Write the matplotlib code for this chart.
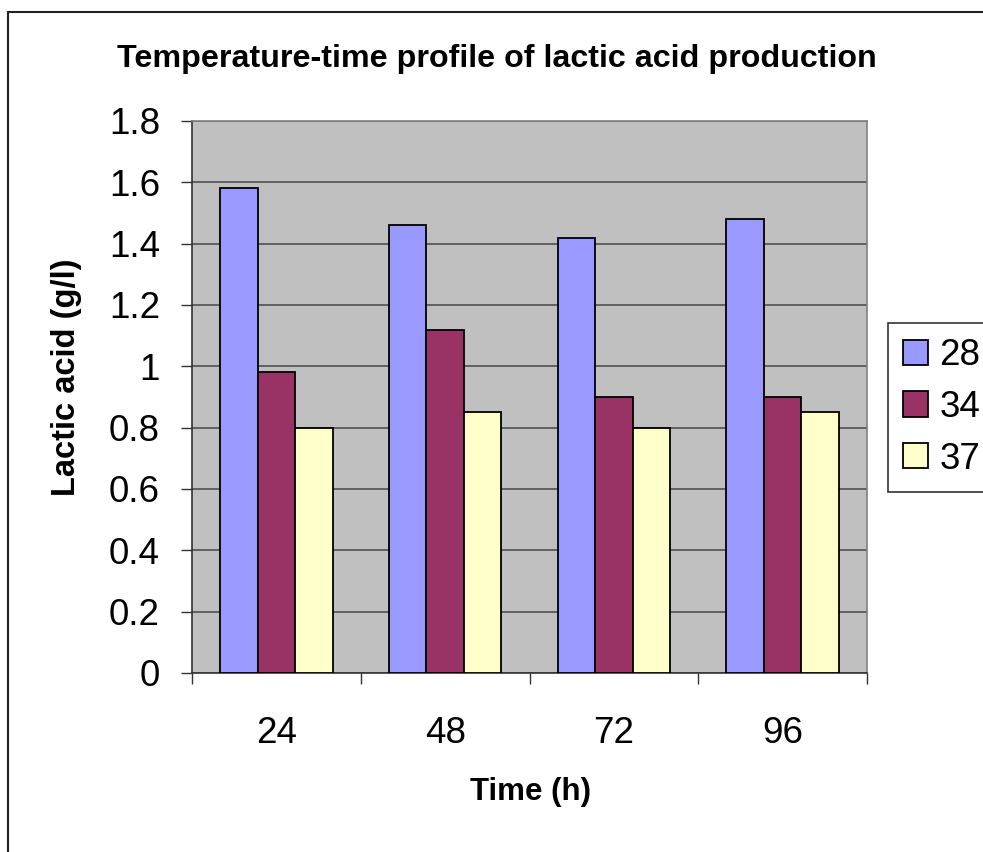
import matplotlib
matplotlib.use("Agg")
import matplotlib.pyplot as plt
import matplotlib.patches as mpatches
import numpy as np

plt.rcParams['font.family'] = ['Liberation Sans', 'DejaVu Sans']

times = ['24', '48', '72', '96']
temps = ['28', '34', '37']
lactic_28 = [1.58, 1.46, 1.42, 1.48]
lactic_34 = [0.98, 1.12, 0.90, 0.90]
lactic_37 = [0.80, 0.85, 0.80, 0.85]
yticks = [0, 0.2, 0.4, 0.6, 0.8, 1.0, 1.2, 1.4, 1.6, 1.8]

colors = ['#9999FF', '#993366', '#FFFFCC']

W, H = 983, 852
fig = plt.figure(figsize=(W / 100, H / 100), dpi=100)

# plot area in pixels: left 192, right 867, top 121, bottom 673
ax = fig.add_axes([192 / W, 1 - 673 / H, (867 - 192) / W, (673 - 121) / H])
ax.set_facecolor('#C0C0C0')

x = np.arange(len(times))
bw = 0.222
series = [lactic_28, lactic_34, lactic_37]
for i, (vals, c, lab) in enumerate(zip(series, colors, temps)):
    ax.bar(x + (i - 1) * bw, vals, bw, color=c, edgecolor='black',
           linewidth=1.3, label=lab, zorder=3)

ax.set_xlim(-0.5, len(times) - 0.5)
ax.set_ylim(0, 1.8)
ax.set_yticks(yticks)
ax.set_yticklabels([f"{v:g}" for v in yticks])
ax.yaxis.grid(True, color='#5a5a5a', linewidth=1.3, zorder=1)
ax.set_axisbelow(True)

ax.set_xticks(x)
ax.set_xticklabels(times)
ax.set_xticks(np.arange(-0.5, len(times)), minor=True)
ax.tick_params(axis='x', which='major', length=0, pad=31, labelsize=26.5)
ax.tick_params(axis='x', which='minor', length=8, width=1, color='#333333')
ax.tick_params(axis='y', length=8, width=1, color='#333333', pad=15, labelsize=26.5)

for s in ['left', 'bottom']:
    ax.spines[s].set_color('#333333')
    ax.spines[s].set_linewidth(1.2)
for s in ['top', 'right']:
    ax.spines[s].set_color('#808080')
    ax.spines[s].set_linewidth(1.2)

fig.text(497 / W, 1 - 67 / H, 'Temperature-time profile of lactic acid production',
         ha='center', va='baseline', fontsize=23.2, fontweight='bold')
fig.text(530 / W, 1 - 800 / H, 'Time (h)', ha='center', va='baseline',
         fontsize=22.5, fontweight='bold')
fig.text(66 / W, 1 - 377 / H, 'Lactic acid (g/l)', ha='center', va='center',
         rotation=90, fontsize=23.5, fontweight='bold')

leg = ax.legend(loc='upper left', bbox_to_anchor=(888 / W, 1 - 323 / H),
                bbox_transform=fig.transFigure, fontsize=26.5, frameon=True,
                fancybox=False, handlelength=0.68, handleheight=0.68,
                handletextpad=0.3, labelspacing=0.45, borderpad=0.42,
                borderaxespad=0)
leg.get_frame().set_edgecolor('black')
leg.get_frame().set_linewidth(1.2)

# outer chart border (right and bottom run off the image)
border = mpatches.Rectangle((8 / W, -0.1), 1.2, 1 - 12 / H + 0.1,
                            transform=fig.transFigure, fill=False,
                            edgecolor='#222222', linewidth=1.5)
fig.patches.append(border)

fig.savefig('out.png', dpi=100)
